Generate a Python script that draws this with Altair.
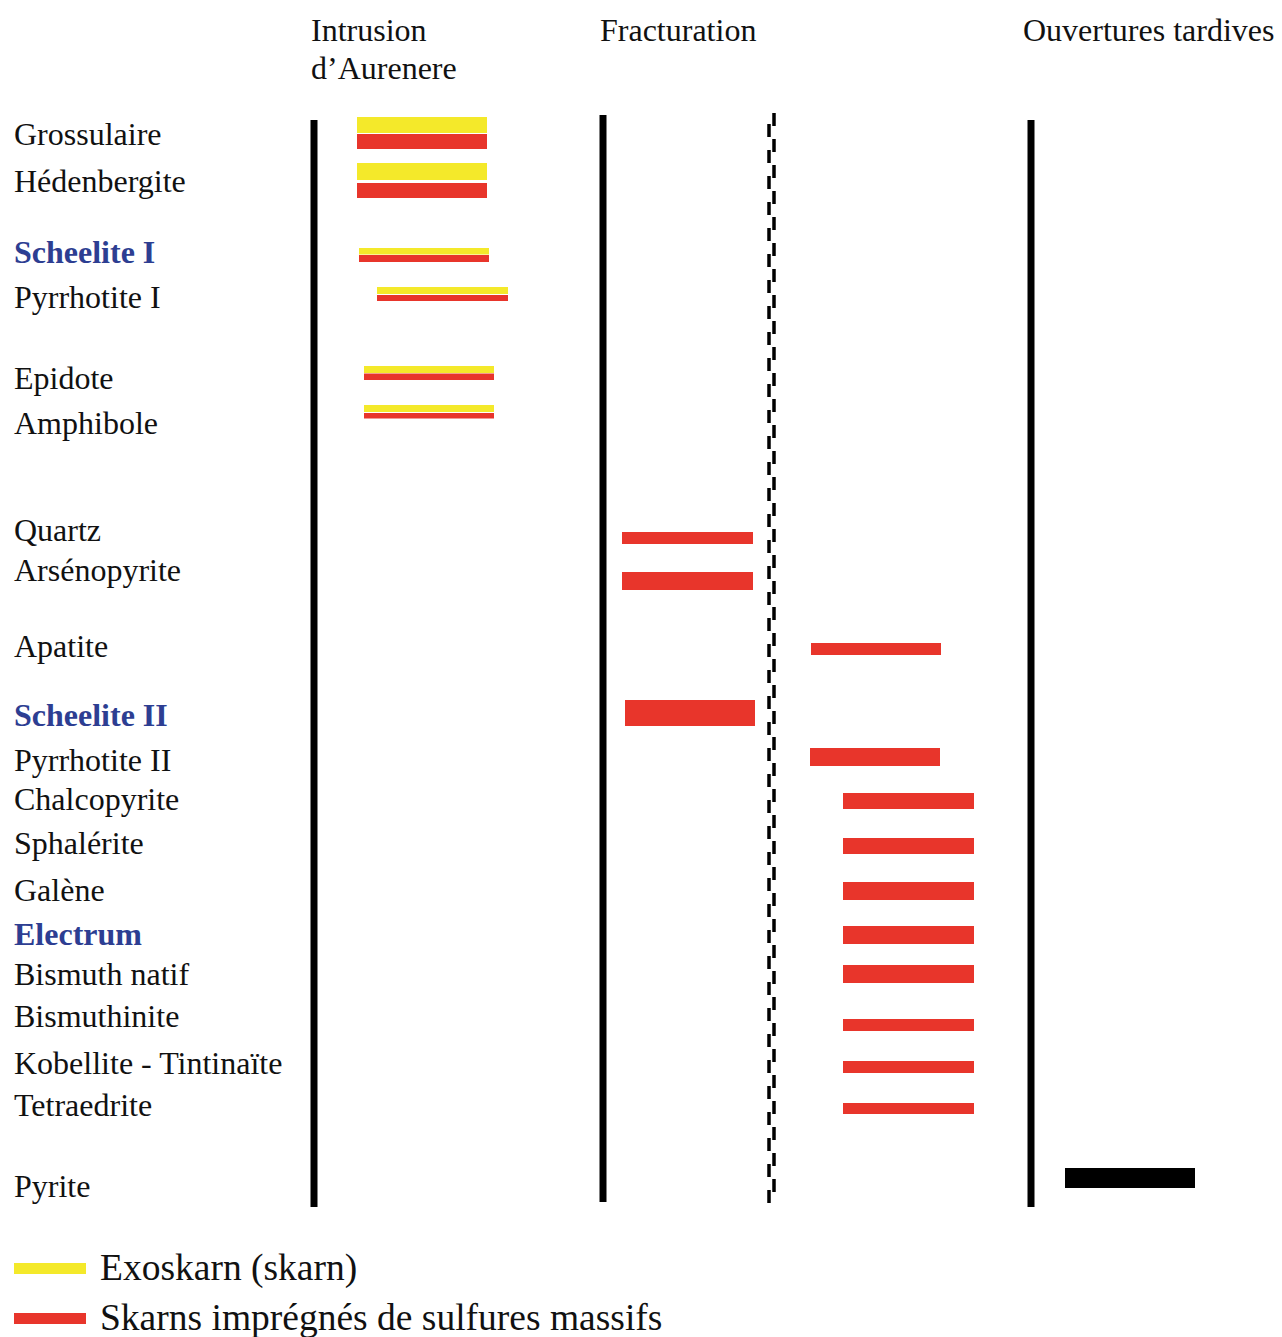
import altair as alt
import pandas as pd

# ---------------- data ----------------
minerals = ["Grossulaire", "Hédenbergite", "Scheelite I", "Pyrrhotite I", "Epidote",
            "Amphibole", "Quartz", "Arsénopyrite", "Apatite", "Scheelite II",
            "Pyrrhotite II", "Chalcopyrite", "Sphalérite", "Galène", "Electrum",
            "Bismuth natif", "Bismuthinite", "Kobellite - Tintinaïte", "Tetraedrite", "Pyrite"]
label_row = [135, 182, 253, 298, 379, 424, 531, 571, 647, 716,
             761, 800, 844, 891, 935, 975, 1017, 1064, 1106, 1187]
ore_minerals = ["Scheelite I", "Scheelite II", "Electrum"]

# Exoskarn (yellow) bars: relative time start/end, row top/bottom
exo_minerals = ["Grossulaire", "Hédenbergite", "Scheelite I", "Pyrrhotite I", "Epidote", "Amphibole"]
exo_start = [357, 357, 359, 377, 364, 364]
exo_end = [487, 487, 489, 508, 494, 494]
exo_top = [117, 163, 248, 287, 366, 405]
exo_bottom = [133, 180, 254.5, 294, 373, 412]

# Massive sulphide skarn (red) bars
sulf_minerals = ["Grossulaire", "Hédenbergite", "Scheelite I", "Pyrrhotite I", "Epidote",
                 "Amphibole", "Quartz", "Arsénopyrite", "Apatite", "Scheelite II",
                 "Pyrrhotite II", "Chalcopyrite", "Sphalérite", "Galène", "Electrum",
                 "Bismuth natif", "Bismuthinite", "Kobellite - Tintinaïte", "Tetraedrite"]
sulf_start = [357, 357, 359, 377, 364, 364, 622, 622, 811, 625,
              810, 843, 843, 843, 843, 843, 843, 843, 843]
sulf_end = [487, 487, 489, 508, 494, 494, 753, 753, 941, 755,
            940, 974, 974, 974, 974, 974, 974, 974, 974]
sulf_top = [134, 183, 255, 295, 373.5, 413, 532, 572, 643, 700,
            748, 793, 838, 882, 926, 965, 1019, 1061, 1103]
sulf_bottom = [149, 198, 262, 301, 380, 418.5, 544, 590, 655, 726,
               766, 809, 854, 900, 944, 983, 1031, 1073, 1114]

# Late opening (black) bar
late_minerals = ["Pyrite"]
late_start = [1065]
late_end = [1195]
late_top = [1168]
late_bottom = [1188]

# Phase boundaries (solid)
phase_x = [314, 603, 1031]
phase_top = [120, 115, 120]
phase_bottom = [1207, 1202, 1207]

# Dashed boundary (two staggered dashed strokes)
dash_x = [769, 774]
dash_top = [124, 113]
dash_bottom = [1203, 1203]

# Headers
header_text = ["Intrusion", "d’Aurenere", "Fracturation", "Ouvertures tardives"]
header_x = [311, 311, 600, 1023]
header_y = [31, 69, 31, 31]

# Legend
legend_labels = ["Exoskarn (skarn)", "Skarns imprégnés de sulfures massifs"]
legend_kind = ["exo", "sulf"]
legend_y = [1269, 1319]

YELLOW = "#f4e92a"
RED = "#e8352b"
BLACK = "#000000"
BLUE = "#2d3e92"
TEXT = "#111111"
FONT = "Liberation Serif"

# ---------------- tables ----------------
bars = pd.concat([
    pd.DataFrame({"mineral": exo_minerals, "kind": "exo", "t0": exo_start, "t1": exo_end,
                  "r0": exo_top, "r1": exo_bottom}),
    pd.DataFrame({"mineral": sulf_minerals, "kind": "sulf", "t0": sulf_start, "t1": sulf_end,
                  "r0": sulf_top, "r1": sulf_bottom}),
    pd.DataFrame({"mineral": late_minerals, "kind": "late", "t0": late_start, "t1": late_end,
                  "r0": late_top, "r1": late_bottom}),
], ignore_index=True)

labels = pd.DataFrame({"mineral": minerals, "row": label_row})
labels["t"] = 14
labels_plain = labels[~labels["mineral"].isin(ore_minerals)]
labels_ore = labels[labels["mineral"].isin(ore_minerals)]

phases = pd.DataFrame({"t": phase_x, "r0": phase_top, "r1": phase_bottom})
dashes = pd.DataFrame({"t": dash_x, "r0": dash_top, "r1": dash_bottom})
headers = pd.DataFrame({"text": header_text, "t": header_x, "row": header_y})

leg = pd.DataFrame({"label": legend_labels, "kind": legend_kind, "row": legend_y})
leg["t0"] = 14
leg["t1"] = 86
leg["r0"] = leg["row"] - 6
leg["r1"] = leg["row"] + 5
leg["tt"] = 100

# ---------------- scales ----------------
xs = alt.Scale(domain=[8, 1274], nice=False, zero=False)
ys = alt.Scale(domain=[8, 1337], nice=False, zero=False, reverse=True)
cs = alt.Scale(domain=["exo", "sulf", "late"], range=[YELLOW, RED, BLACK])

bar_layer = alt.Chart(bars).mark_bar().encode(
    x=alt.X("t0:Q", scale=xs, axis=None),
    x2="t1:Q",
    y=alt.Y("r0:Q", scale=ys, axis=None),
    y2="r1:Q",
    color=alt.Color("kind:N", scale=cs, legend=None),
)

phase_layer = alt.Chart(phases).mark_rule(color=BLACK, strokeWidth=7).encode(
    x=alt.X("t:Q", scale=xs, axis=None),
    y=alt.Y("r0:Q", scale=ys, axis=None),
    y2="r1:Q",
)

dash_layer = alt.Chart(dashes).mark_rule(color=BLACK, strokeWidth=3.5, strokeDash=[13, 13]).encode(
    x=alt.X("t:Q", scale=xs, axis=None),
    y=alt.Y("r0:Q", scale=ys, axis=None),
    y2="r1:Q",
)

label_layer = alt.Chart(labels_plain).mark_text(
    align="left", baseline="middle", font=FONT, fontSize=32, color=TEXT
).encode(
    x=alt.X("t:Q", scale=xs, axis=None),
    y=alt.Y("row:Q", scale=ys, axis=None),
    text="mineral:N",
)

ore_layer = alt.Chart(labels_ore).mark_text(
    align="left", baseline="middle", font=FONT, fontSize=32, color=BLUE, fontWeight="bold"
).encode(
    x=alt.X("t:Q", scale=xs, axis=None),
    y=alt.Y("row:Q", scale=ys, axis=None),
    text="mineral:N",
)

header_layer = alt.Chart(headers).mark_text(
    align="left", baseline="middle", font=FONT, fontSize=32, color=TEXT
).encode(
    x=alt.X("t:Q", scale=xs, axis=None),
    y=alt.Y("row:Q", scale=ys, axis=None),
    text="text:N",
)

legend_bars = alt.Chart(leg).mark_bar().encode(
    x=alt.X("t0:Q", scale=xs, axis=None),
    x2="t1:Q",
    y=alt.Y("r0:Q", scale=ys, axis=None),
    y2="r1:Q",
    color=alt.Color("kind:N", scale=cs, legend=None),
)

legend_text = alt.Chart(leg).mark_text(
    align="left", baseline="middle", font=FONT, fontSize=37.5, color=TEXT
).encode(
    x=alt.X("tt:Q", scale=xs, axis=None),
    y=alt.Y("row:Q", scale=ys, axis=None),
    text="label:N",
)

chart = alt.layer(
    bar_layer, phase_layer, dash_layer, label_layer, ore_layer, header_layer,
    legend_bars, legend_text
).properties(
    width=1266, height=1329, padding=0, background="white",
    autosize=alt.AutoSizeParams(type="none"),
).configure_view(stroke=None)

chart.save("out.html", embed_options={"renderer": "svg", "actions": False})
